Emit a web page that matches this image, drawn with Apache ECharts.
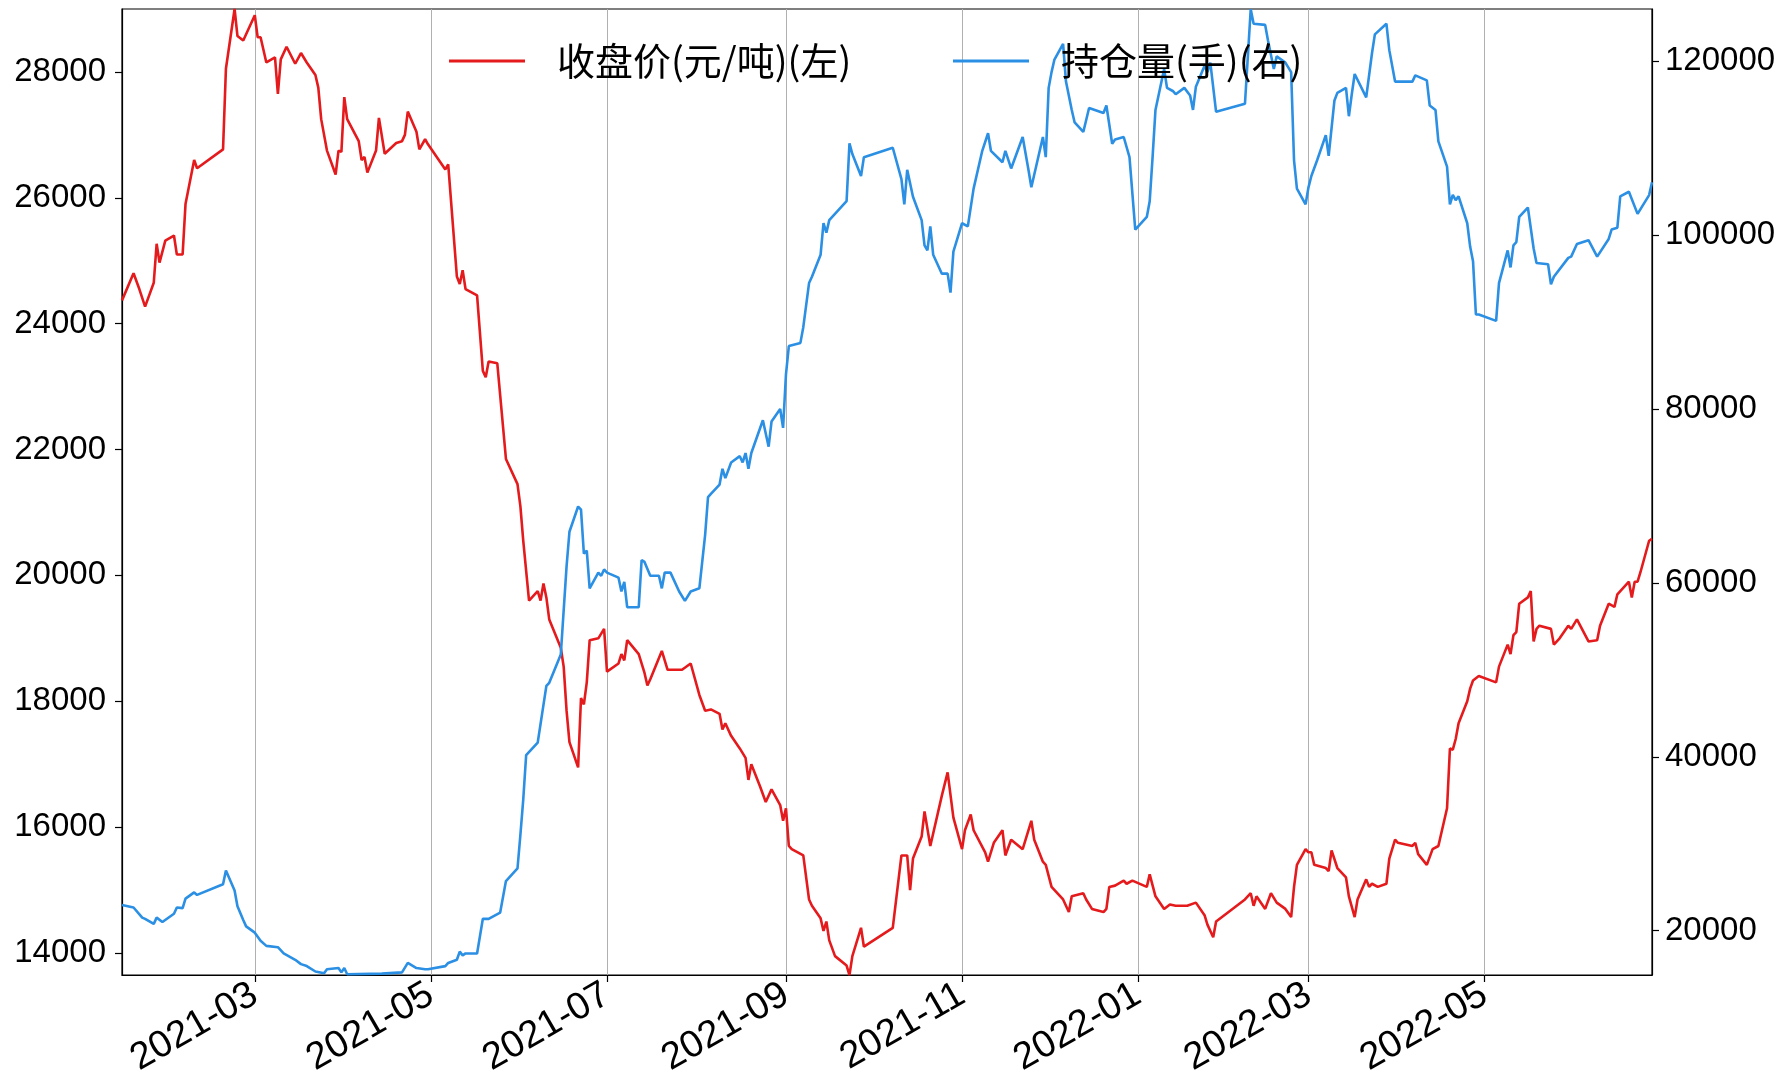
<!DOCTYPE html>
<html>
<head>
<meta charset="utf-8">
<script src="https://cdn.jsdelivr.net/npm/echarts@6/dist/echarts.min.js"></script>
<style>
  html, body { margin: 0; padding: 0; background: #fff; }
  #chart { width: 1783px; height: 1086px; }
</style>
</head>
<body>
<div id="chart"></div>
<script>
// 收盘价 (left axis)
const priceDates = ['2021-01-14','2021-01-18','2021-01-20','2021-01-22','2021-01-25','2021-01-26','2021-01-27','2021-01-29','2021-02-01','2021-02-02','2021-02-04','2021-02-05','2021-02-08','2021-02-09','2021-02-18','2021-02-19','2021-02-22','2021-02-23','2021-02-25','2021-03-01','2021-03-02','2021-03-03','2021-03-05','2021-03-08','2021-03-09','2021-03-10','2021-03-12','2021-03-15','2021-03-17','2021-03-19','2021-03-22','2021-03-23','2021-03-24','2021-03-26','2021-03-29','2021-03-30','2021-03-31','2021-04-01','2021-04-02','2021-04-06','2021-04-07','2021-04-08','2021-04-09','2021-04-12','2021-04-13','2021-04-15','2021-04-19','2021-04-21','2021-04-22','2021-04-23','2021-04-26','2021-04-27','2021-04-29','2021-04-30','2021-05-06','2021-05-07','2021-05-10','2021-05-11','2021-05-12','2021-05-13','2021-05-17','2021-05-19','2021-05-20','2021-05-21','2021-05-24','2021-05-27','2021-05-31','2021-06-01','2021-06-02','2021-06-04','2021-06-07','2021-06-08','2021-06-09','2021-06-10','2021-06-11','2021-06-15','2021-06-16','2021-06-17','2021-06-18','2021-06-21','2021-06-22','2021-06-23','2021-06-24','2021-06-25','2021-06-28','2021-06-30','2021-07-01','2021-07-05','2021-07-06','2021-07-07','2021-07-08','2021-07-12','2021-07-14','2021-07-15','2021-07-16','2021-07-20','2021-07-22','2021-07-27','2021-07-30','2021-08-02','2021-08-04','2021-08-06','2021-08-09','2021-08-10','2021-08-11','2021-08-13','2021-08-16','2021-08-18','2021-08-19','2021-08-20','2021-08-23','2021-08-25','2021-08-27','2021-08-30','2021-08-31','2021-09-01','2021-09-02','2021-09-03','2021-09-07','2021-09-09','2021-09-10','2021-09-13','2021-09-14','2021-09-15','2021-09-16','2021-09-18','2021-09-22','2021-09-23','2021-09-24','2021-09-27','2021-09-28','2021-10-08','2021-10-11','2021-10-13','2021-10-14','2021-10-15','2021-10-18','2021-10-19','2021-10-21','2021-10-25','2021-10-27','2021-10-29','2021-11-01','2021-11-02','2021-11-04','2021-11-05','2021-11-09','2021-11-10','2021-11-12','2021-11-15','2021-11-16','2021-11-18','2021-11-22','2021-11-25','2021-11-26','2021-11-29','2021-11-30','2021-12-02','2021-12-06','2021-12-08','2021-12-09','2021-12-13','2021-12-14','2021-12-16','2021-12-20','2021-12-21','2021-12-22','2021-12-24','2021-12-27','2021-12-28','2021-12-30','2022-01-04','2022-01-05','2022-01-07','2022-01-10','2022-01-12','2022-01-14','2022-01-18','2022-01-21','2022-01-24','2022-01-25','2022-01-27','2022-01-28','2022-02-07','2022-02-09','2022-02-10','2022-02-11','2022-02-14','2022-02-16','2022-02-18','2022-02-21','2022-02-23','2022-02-24','2022-02-25','2022-02-28','2022-03-01','2022-03-02','2022-03-03','2022-03-07','2022-03-08','2022-03-09','2022-03-11','2022-03-14','2022-03-15','2022-03-17','2022-03-18','2022-03-21','2022-03-22','2022-03-23','2022-03-25','2022-03-28','2022-03-29','2022-03-31','2022-04-01','2022-04-06','2022-04-07','2022-04-08','2022-04-11','2022-04-13','2022-04-15','2022-04-18','2022-04-19','2022-04-20','2022-04-21','2022-04-22','2022-04-25','2022-04-26','2022-04-27','2022-04-29','2022-05-05','2022-05-06','2022-05-09','2022-05-10','2022-05-11','2022-05-12','2022-05-13','2022-05-16','2022-05-17','2022-05-18','2022-05-19','2022-05-20','2022-05-24','2022-05-25','2022-05-27','2022-05-30','2022-05-31','2022-06-02','2022-06-06','2022-06-09','2022-06-10','2022-06-13','2022-06-15','2022-06-16','2022-06-20','2022-06-21','2022-06-22','2022-06-23','2022-06-24','2022-06-27','2022-06-28'];
const priceValues = [24370,24800,24550,24270,24650,25270,24970,25320,25400,25100,25100,25900,26600,26470,26770,28050,29000,28570,28500,28900,28550,28550,28150,28230,27650,28200,28400,28130,28300,28150,27950,27750,27250,26750,26370,26750,26730,27600,27250,26900,26600,26650,26400,26750,27270,26700,26870,26900,27000,27370,27050,26770,26930,26850,26450,26530,24750,24630,24850,24550,24450,23250,23150,23400,23370,21850,21450,21100,20550,19600,19750,19600,19870,19650,19300,18850,18550,17850,17350,16950,18050,17950,18300,18970,19000,19150,18470,18600,18750,18650,18970,18750,18450,18250,18350,18800,18500,18500,18600,18100,17850,17870,17800,17550,17650,17450,17250,17100,16750,17000,16650,16400,16600,16350,16100,16300,15700,15650,15550,14850,14750,14550,14350,14500,14200,13950,13800,13650,13950,14400,14100,14400,15550,15550,15000,15500,15850,16250,15700,16500,16870,16150,15650,15950,16200,15950,15600,15450,15750,15950,15550,15800,15650,16100,15800,15450,15400,15050,14850,14650,14900,14950,14850,14700,14650,14700,15050,15070,15150,15100,15150,15050,15250,14900,14700,14770,14750,14750,14800,14600,14450,14250,14500,14850,14950,14750,14900,14700,14950,14800,14700,14570,15050,15400,15650,15600,15600,15400,15350,15300,15630,15350,15200,14900,14570,14850,15170,15050,15100,15050,15100,15500,15800,15750,15700,15750,15570,15400,15650,15700,16300,17250,17230,17400,17650,18000,18200,18330,18400,18300,18550,18900,18750,19050,19100,19550,19650,19750,18950,19150,19200,19150,18900,19000,19200,19150,19300,18950,18970,19200,19550,19500,19700,19900,19650,19900,19900,20050,20550,20580];

// 持仓量 (right axis)
const oiDates = ['2021-01-14','2021-01-18','2021-01-21','2021-01-22','2021-01-25','2021-01-26','2021-01-28','2021-02-01','2021-02-02','2021-02-04','2021-02-05','2021-02-08','2021-02-09','2021-02-18','2021-02-19','2021-02-22','2021-02-23','2021-02-25','2021-02-26','2021-03-01','2021-03-03','2021-03-05','2021-03-09','2021-03-11','2021-03-15','2021-03-17','2021-03-19','2021-03-22','2021-03-25','2021-03-26','2021-03-30','2021-03-31','2021-04-01','2021-04-02','2021-04-14','2021-04-21','2021-04-23','2021-04-26','2021-04-29','2021-04-30','2021-05-06','2021-05-07','2021-05-10','2021-05-11','2021-05-12','2021-05-13','2021-05-17','2021-05-19','2021-05-21','2021-05-25','2021-05-27','2021-05-31','2021-06-01','2021-06-02','2021-06-03','2021-06-07','2021-06-08','2021-06-09','2021-06-10','2021-06-11','2021-06-15','2021-06-17','2021-06-18','2021-06-21','2021-06-22','2021-06-23','2021-06-24','2021-06-25','2021-06-28','2021-06-29','2021-06-30','2021-07-01','2021-07-02','2021-07-05','2021-07-06','2021-07-07','2021-07-08','2021-07-12','2021-07-13','2021-07-14','2021-07-16','2021-07-19','2021-07-20','2021-07-21','2021-07-23','2021-07-26','2021-07-28','2021-07-30','2021-08-02','2021-08-04','2021-08-05','2021-08-06','2021-08-09','2021-08-10','2021-08-11','2021-08-13','2021-08-16','2021-08-17','2021-08-18','2021-08-19','2021-08-20','2021-08-24','2021-08-26','2021-08-27','2021-08-30','2021-08-31','2021-09-01','2021-09-02','2021-09-06','2021-09-07','2021-09-09','2021-09-10','2021-09-13','2021-09-14','2021-09-15','2021-09-16','2021-09-22','2021-09-23','2021-09-24','2021-09-27','2021-09-28','2021-10-08','2021-10-11','2021-10-12','2021-10-13','2021-10-15','2021-10-18','2021-10-19','2021-10-20','2021-10-21','2021-10-22','2021-10-25','2021-10-27','2021-10-28','2021-10-29','2021-11-01','2021-11-03','2021-11-05','2021-11-08','2021-11-10','2021-11-11','2021-11-15','2021-11-16','2021-11-18','2021-11-22','2021-11-24','2021-11-25','2021-11-29','2021-11-30','2021-12-01','2021-12-02','2021-12-03','2021-12-06','2021-12-07','2021-12-09','2021-12-10','2021-12-13','2021-12-15','2021-12-20','2021-12-21','2021-12-23','2021-12-24','2021-12-27','2021-12-29','2021-12-31','2022-01-04','2022-01-05','2022-01-06','2022-01-07','2022-01-10','2022-01-11','2022-01-13','2022-01-14','2022-01-17','2022-01-19','2022-01-20','2022-01-21','2022-01-24','2022-01-25','2022-01-26','2022-01-28','2022-02-07','2022-02-09','2022-02-10','2022-02-14','2022-02-15','2022-02-17','2022-02-18','2022-02-21','2022-02-23','2022-02-24','2022-02-25','2022-02-28','2022-03-01','2022-03-02','2022-03-04','2022-03-07','2022-03-08','2022-03-10','2022-03-11','2022-03-14','2022-03-15','2022-03-16','2022-03-17','2022-03-21','2022-03-23','2022-03-24','2022-03-28','2022-03-29','2022-03-31','2022-04-06','2022-04-07','2022-04-11','2022-04-12','2022-04-14','2022-04-15','2022-04-18','2022-04-19','2022-04-20','2022-04-21','2022-04-22','2022-04-25','2022-04-26','2022-04-27','2022-04-28','2022-04-29','2022-05-05','2022-05-06','2022-05-09','2022-05-10','2022-05-11','2022-05-12','2022-05-13','2022-05-16','2022-05-18','2022-05-19','2022-05-23','2022-05-24','2022-05-25','2022-05-30','2022-05-31','2022-06-02','2022-06-06','2022-06-09','2022-06-13','2022-06-14','2022-06-16','2022-06-17','2022-06-20','2022-06-23','2022-06-27','2022-06-28'];
const oiValues = [22960,22660,21500,21360,20780,21500,21000,21940,22660,22590,23680,24400,24110,25340,26930,24620,22810,21220,20490,19770,18830,18250,18100,17380,16650,16150,15930,15300,15100,15560,15700,15200,15700,14990,15060,15200,16290,15700,15560,15560,15920,16290,16650,17590,17160,17380,17380,21360,21360,22080,25700,27150,31000,35110,40180,41630,43800,45970,48140,48510,51760,61900,65880,68780,68420,63350,63710,59370,61180,60810,61540,61180,61030,60600,59010,60100,57200,57200,62630,62410,60810,60810,59370,61180,61180,59010,57920,59010,59370,65520,69860,70230,71310,73120,72040,73850,74570,73850,74930,73120,74930,78700,75660,78550,80000,77830,83980,87240,87600,89410,94480,95200,97740,101360,100270,101720,103890,110550,109320,106790,108960,110040,106430,103530,107510,104400,101720,98820,98240,101000,97740,95560,95560,93390,98100,101360,101000,105340,109690,111710,109690,108380,109690,107660,111280,107510,105490,111280,108960,116930,118740,120190,122000,117650,114390,112950,111860,114610,114030,114900,110500,111000,111280,108960,100630,102080,103890,108960,114390,119100,116930,116570,116200,116930,116060,114390,117070,119460,118740,119830,114170,115100,125980,124310,124170,122360,119100,120550,119830,118740,108600,105340,103530,105490,106790,108600,111500,109100,115480,116350,116930,113670,116200,118520,115840,120910,123080,124310,121270,117650,117650,118370,117790,114900,114390,110770,107870,103530,104620,104020,104460,101360,98680,97000,90860,90860,90130,94480,98240,96280,98820,99190,102080,103170,98460,96790,96640,94330,95200,97380,97520,98980,99410,97520,99550,100630,100850,104460,104980,102440,104600,106070];

// axis ticks
const monthTicks = ['2021-03-01','2021-05-01','2021-07-01','2021-09-01','2021-11-01','2022-01-01','2022-03-01','2022-05-01'];
const priceTicks = [14000,16000,18000,20000,22000,24000,26000,28000];
const oiTicks = [20000,40000,60000,80000,100000,120000];

const seriesNames = ['收盘价(元/吨)(左)', '持仓量(手)(右)'];

function toTime(s) {
  const p = s.split('-').map(Number);
  return Date.UTC(p[0], p[1] - 1, p[2]);
}
function pairs(dates, values) {
  return dates.map((d, i) => [toTime(d), values[i]]);
}
function monthLabel(v) {
  const d = new Date(v);
  const m = d.getUTCMonth() + 1;
  return d.getUTCFullYear() + '-' + (m < 10 ? '0' + m : m);
}
function plainNumber(v) {
  return String(v);
}

const priceData = pairs(priceDates, priceValues);
const oiData = pairs(oiDates, oiValues);
const monthTickTimes = monthTicks.map(toTime);

const DIGIT_FONT = 'Liberation Sans, Arial, sans-serif';
const RED = '#e41a1c';
const BLUE = '#2b8fe3';
const AXIS_LINE = { show: true, lineStyle: { color: '#000', width: 1.2 } };

function legendBlock(name, left) {
  return {
    data: [name],
    left: left,
    top: 42,
    padding: 0,
    icon: 'rect',
    itemWidth: 76,
    itemHeight: 3,
    textStyle: {
      fontFamily: 'Noto Sans CJK SC',
      fontSize: 38,
      color: '#000',
      padding: [0, 0, 0, 27]
    }
  };
}

const chart = echarts.init(document.getElementById('chart'), null, { renderer: 'canvas' });
chart.setOption({
  animation: false,
  backgroundColor: '#fff',
  grid: {
    left: 122, right: 131, top: 9, bottom: 111,
    show: true, borderColor: '#000', borderWidth: 1.2, backgroundColor: 'transparent'
  },
  legend: [legendBlock(seriesNames[0], 449), legendBlock(seriesNames[1], 953)],
  // dates are plotted as UTC timestamps on a numeric axis
  xAxis: {
    type: 'value',
    min: priceData[0][0],
    max: priceData[priceData.length - 1][0],
    axisLine: AXIS_LINE,
    axisTick: { show: true, length: 7, lineStyle: { color: '#000', width: 1.2 }, customValues: monthTickTimes },
    axisLabel: {
      customValues: monthTickTimes,
      rotate: 30,
      margin: 17,
      fontFamily: DIGIT_FONT,
      fontSize: 38,
      color: '#000',
      formatter: monthLabel
    },
    splitLine: { show: true, lineStyle: { color: '#b0b0b0', width: 1 } }
  },
  yAxis: [
    {
      type: 'value',
      position: 'left',
      min: 13650,
      max: 29000,
      axisLine: AXIS_LINE,
      axisTick: { show: true, length: 7, lineStyle: { color: '#000', width: 1.2 }, customValues: priceTicks },
      axisLabel: { customValues: priceTicks, margin: 16, fontFamily: DIGIT_FONT, fontSize: 33, color: '#000', formatter: plainNumber },
      splitLine: { show: false }
    },
    {
      type: 'value',
      position: 'right',
      min: 14900,
      max: 126000,
      axisLine: AXIS_LINE,
      axisTick: { show: true, length: 7, lineStyle: { color: '#000', width: 1.2 }, customValues: oiTicks },
      axisLabel: { customValues: oiTicks, margin: 13, fontFamily: DIGIT_FONT, fontSize: 33, color: '#000', formatter: plainNumber },
      splitLine: { show: false }
    }
  ],
  series: [
    {
      name: seriesNames[0],
      type: 'line',
      yAxisIndex: 0,
      data: priceData,
      showSymbol: false,
      symbol: 'none',
      itemStyle: { color: RED },
      lineStyle: { color: RED, width: 2.6 }
    },
    {
      name: seriesNames[1],
      type: 'line',
      yAxisIndex: 1,
      data: oiData,
      showSymbol: false,
      symbol: 'none',
      itemStyle: { color: BLUE },
      lineStyle: { color: BLUE, width: 2.6 }
    }
  ]
});
</script>
</body>
</html>
